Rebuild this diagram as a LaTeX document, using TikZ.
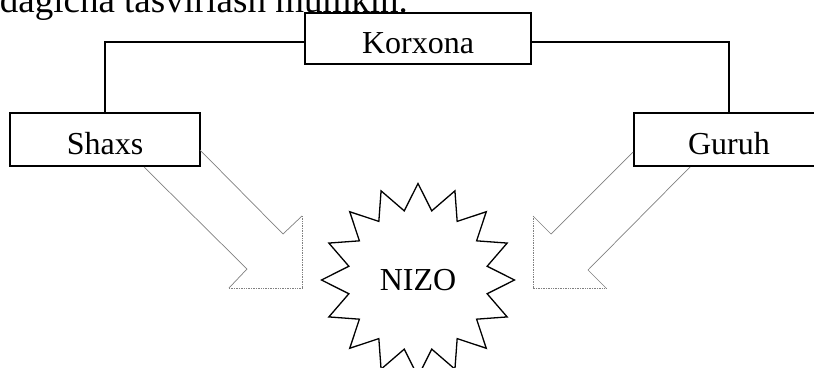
\documentclass[tikz,border=0pt]{standalone}
\usepackage{fontspec}
\setmainfont{Liberation Serif}
\tikzset{
  boxnode/.style={draw, line width=1.3pt, inner sep=0pt, text height=30pt, text depth=0.5pt,
    font=\fontsize{32}{38}\selectfont},
  conn/.style={line width=1.3pt},
  arrowside/.style={gray, line width=0.7pt},
  arrowhead/.style={gray, line width=0.7pt, densely dotted},
  starline/.style={line width=1.3pt, line join=miter},
}
\begin{document}
\begin{tikzpicture}[x=1pt,y=-1pt]
\useasboundingbox (0,0) rectangle (814,367);
\clip (0,0) rectangle (814,367);
% intro text (cut off at top, as in the reference)
\node[anchor=base east, inner sep=0pt, font=\fontsize{37}{42}\selectfont] (intro) at (408,12.5) {dagicha tasvirlash mumkin.};
% boxes
\node[boxnode, minimum width=226pt, minimum height=51pt] (korxona) at (418,38.5) {Korxona};
\node[boxnode, minimum width=190pt, minimum height=53pt] (shaxs) at (105,139.5) {Shaxs};
\node[boxnode, minimum width=190pt, minimum height=53pt] (guruh) at (729,139.5) {Guruh};
% connectors
\draw[conn] ([yshift=-3.5pt]korxona.west) -| (shaxs.north);
\draw[conn] ([yshift=-3.5pt]korxona.east) -| (guruh.north);
% central star
\node[inner sep=0pt, font=\fontsize{32}{38}\selectfont] (nizo) at (418,280) {NIZO};
\draw[starline] ([shift={(nizo.center)}]90:96.5)
  \foreach \k in {0,...,15}{
    -- ([shift={(nizo.center)}]{\k*22.5+101.25}:70.5)
    -- ([shift={(nizo.center)}]{\k*22.5+112.5}:96.5)
  } -- cycle;
% left block arrow
\draw[arrowside] (200,150) -- (283,234) -- (302,216);
\draw[arrowhead] (302,216) -- (302,288) -- (229,288);
\draw[arrowside] (229,288) -- (247,269) -- (144,167);
% right block arrow
\draw[arrowside] (633,152) -- (551,234) -- (533,216);
\draw[arrowhead] (533,216) -- (533,288) -- (606,288);
\draw[arrowside] (606,288) -- (588,270) -- (690,167);
\end{tikzpicture}
\end{document}
